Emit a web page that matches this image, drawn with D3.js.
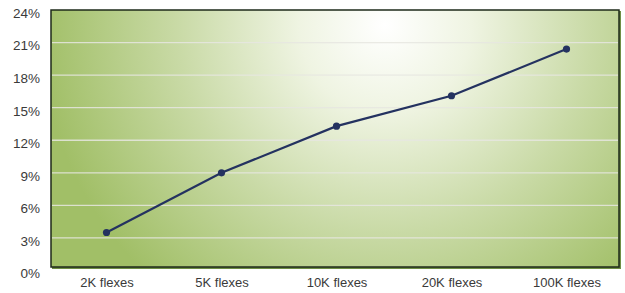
<!DOCTYPE html>
<html>
<head>
<meta charset="utf-8">
<script src="https://cdn.jsdelivr.net/npm/d3@7"></script>
<style>
  body { margin: 0; background: #fff; }
  text { font-family: "Liberation Sans", Arial, sans-serif; }
</style>
</head>
<body>
<div id="chart"></div>
<script>
const width = 625;
const height = 293;

// data
const categories = ["2K flexes", "5K flexes", "10K flexes", "20K flexes", "100K flexes"];
const values = [3.5, 9.0, 13.3, 16.1, 20.4];
const yTicks = [0, 3, 6, 9, 12, 15, 18, 21, 24];

const box = { left: 51, right: 619, top: 10, bottom: 267 };

const svg = d3.select("#chart")
    .append("svg")
    .attr("width", width)
    .attr("height", height);

const x = d3.scalePoint()
    .domain(categories)
    .range([49, 624])
    .padding(0.5);

const y = d3.scaleLinear()
    .domain([0, 24])
    .range([270.5, 10]);

const defs = svg.append("defs");
const grad = defs.append("radialGradient")
    .attr("id", "bg")
    .attr("gradientUnits", "userSpaceOnUse")
    .attr("cx", 385).attr("cy", 25)
    .attr("r", 345);
grad.append("stop").attr("offset", "0").attr("stop-color", "#ffffff");
grad.append("stop").attr("offset", "0.25").attr("stop-color", "#eff4e2");
grad.append("stop").attr("offset", "0.6").attr("stop-color", "#c9daa6");
grad.append("stop").attr("offset", "1").attr("stop-color", "#a1bf67");

// shadow
svg.append("rect")
    .attr("x", box.left + 1).attr("y", box.top + 1)
    .attr("width", box.right - box.left + 1)
    .attr("height", box.bottom - box.top + 1)
    .attr("fill", "#6f8f45");

svg.append("rect")
    .attr("x", box.left).attr("y", box.top)
    .attr("width", box.right - box.left)
    .attr("height", box.bottom - box.top)
    .attr("fill", "url(#bg)")
    .attr("stroke", "#1e2a1a")
    .attr("stroke-width", 1.5);

// gridlines
svg.append("g")
    .selectAll("line")
    .data(yTicks.filter(d => d > 0 && d < 24))
    .join("line")
    .attr("x1", box.left + 1)
    .attr("x2", box.right - 1)
    .attr("y1", d => y(d))
    .attr("y2", d => y(d))
    .attr("stroke", "#e6e6e0")
    .attr("stroke-opacity", 0.85)
    .attr("stroke-width", 1.3);

// y axis labels
const yAxis = d3.axisLeft(y)
    .tickValues(yTicks)
    .tickFormat(d => d + "%")
    .tickSize(0)
    .tickPadding(0);

svg.append("g")
    .attr("transform", "translate(40,3)")
    .call(yAxis)
    .call(g => g.select(".domain").remove())
    .selectAll("text")
    .attr("fill", "#3a3a3a")
    .attr("font-size", 13.5);

// x axis labels
const xAxis = d3.axisBottom(x).tickSize(0).tickPadding(0);
svg.append("g")
    .attr("transform", "translate(0,278)")
    .call(xAxis)
    .call(g => g.select(".domain").remove())
    .selectAll("text")
    .attr("fill", "#3a3a3a")
    .attr("font-size", 13);

const line = d3.line()
    .x((d, i) => x(categories[i]))
    .y(d => y(d));

svg.append("path")
    .datum(values)
    .attr("fill", "none")
    .attr("stroke", "#243260")
    .attr("stroke-width", 2.2)
    .attr("d", line);

svg.append("g")
    .selectAll("circle")
    .data(values)
    .join("circle")
    .attr("cx", (d, i) => x(categories[i]))
    .attr("cy", d => y(d))
    .attr("r", 3.6)
    .attr("fill", "#243260");
</script>
</body>
</html>
